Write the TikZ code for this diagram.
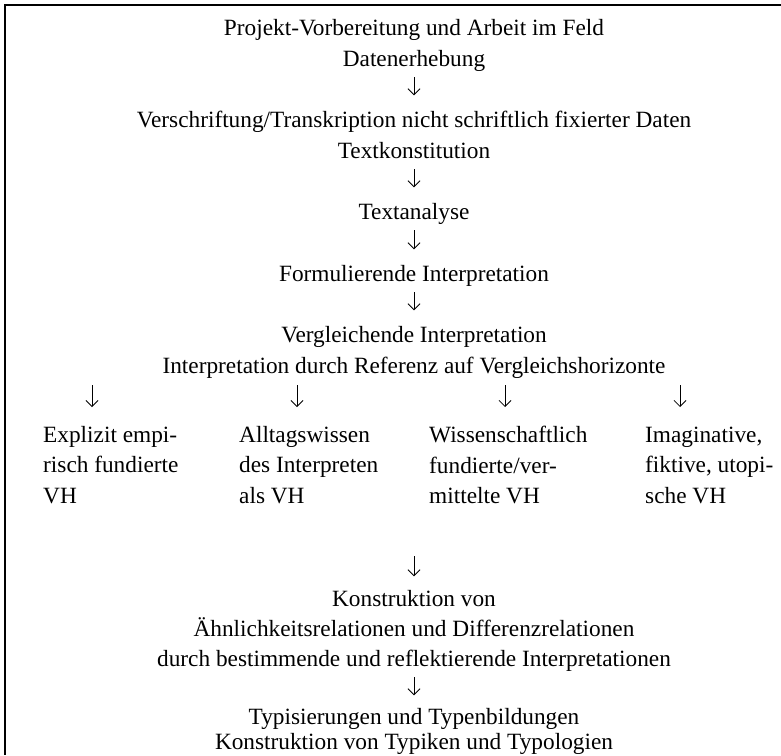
\documentclass[tikz,border=0pt]{standalone}
\usepackage{fontspec}
\setmainfont{Liberation Serif}
\usetikzlibrary{arrows.meta, calc}

\begin{document}
\begin{tikzpicture}[x=1pt, y=-1pt,
    txt/.style={inner sep=0pt, anchor=base, text height=15.5pt, text depth=0pt, font=\fontsize{23.3}{30.5}\selectfont},
    col/.style={inner sep=0pt, anchor=north west, align=left, font=\fontsize{23.3}{30.5}\selectfont},
    flow/.style={line width=0.85pt, -{Straight Barb[length=6pt,width=12pt]}, shorten <=11pt, shorten >=16pt}]
  \useasboundingbox (0,0) rectangle (781,755);
  \draw[line width=1.8pt] (781,5) -- (5,5) -- (5,755);
  % main chain
  \node[txt] (proj) at (414,35) {Projekt-Vorbereitung und Arbeit im Feld};
  \node[txt] (dat) at (414,66) {Datenerhebung};
  \node[txt] (vers) at (414,127) {Verschriftung/Transkription nicht schriftlich fixierter Daten};
  \node[txt] (tkon) at (414,158) {Textkonstitution};
  \node[txt] (tana) at (414,219) {Textanalyse};
  \node[txt] (form) at (414,281) {Formulierende Interpretation};
  \node[txt] (verg) at (414,342) {Vergleichende Interpretation};
  \node[txt] (ref) at (414,373) {Interpretation durch Referenz auf Vergleichshorizonte};
  % horizons
  \node[col] (emp) at (43,426) {\rule{0pt}{16pt}Explizit empi-\\risch fundierte\\VH};
  \node[col] (allt) at (239,426) {\rule{0pt}{16pt}Alltagswissen\\des Interpreten\\als VH};
  \node[col] (wiss) at (429,426) {\rule{0pt}{16pt}Wissenschaftlich\\fundierte/ver-\\mittelte VH};
  \node[col] (imag) at (645,426) {\rule{0pt}{16pt}Imaginative,\\fiktive, utopi-\\sche VH};
  % lower chain
  \node[txt] (kon) at (414,606) {Konstruktion von};
  \node[txt] (aehn) at (414,636) {Ähnlichkeitsrelationen und Differenzrelationen};
  \node[txt] (durch) at (414,666) {durch bestimmende und reflektierende Interpretationen};
  \node[txt] (typ) at (414,724) {Typisierungen und Typenbildungen};
  \node[txt] (typo) at (414,749) {Konstruktion von Typiken und Typologien};
  \coordinate (h1) at ($(emp.north west)+(49,0)$);
  \coordinate (h2) at ($(allt.north west)+(58,0)$);
  \coordinate (h3) at ($(wiss.north west)+(76,0)$);
  \coordinate (h4) at ($(imag.north west)+(35,0)$);
  \coordinate (join) at ($(kon.north)+(0,-34)$);
  % arrows
  \draw[flow] (dat) -- (vers);
  \draw[flow] (tkon) -- (tana);
  \draw[flow] (tana) -- (form);
  \draw[flow] (form) -- (verg);
  \foreach \h in {h1,h2,h3,h4}
    \draw[flow, shorten <=12pt, shorten >=19pt] (ref.south -| \h) -- (\h);
  \draw[flow, shorten <=0pt, shorten >=14pt] (join) -- (kon.north);
  \draw[flow, shorten >=13pt] (durch) -- (typ);
\end{tikzpicture}
\end{document}
